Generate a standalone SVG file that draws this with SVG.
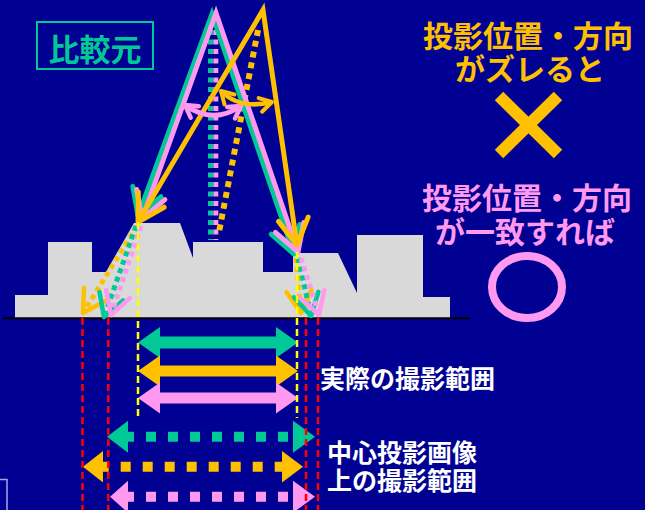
<svg xmlns="http://www.w3.org/2000/svg" width="645" height="510" viewBox="0 0 645 510">
<style>
.jp{font-family:"Noto Sans CJK JP","Noto Sans CJK SC",sans-serif;font-weight:bold}
.ray{fill:none;stroke-width:5;stroke-linejoin:miter}
.dot{fill:none;stroke-width:5;stroke-dasharray:5 4}
.g{stroke:#00C896}.o{stroke:#FFC000}.p{stroke:#FF99F0}
.vd{fill:none;stroke-width:2.5;stroke-dasharray:7 4}
.sq{fill:none;stroke-width:10;stroke-dasharray:10 12}
</style>
<defs>
<marker id="cg" markerUnits="userSpaceOnUse" viewBox="0 0 32 32" markerWidth="32" markerHeight="32" refX="28" refY="16" orient="auto-start-reverse" style="overflow:visible"><path d="M2,1 L28,16 L2,31" fill="none" stroke="#00C896" stroke-width="5" stroke-linecap="round" stroke-linejoin="round"/></marker>
<marker id="co" markerUnits="userSpaceOnUse" viewBox="0 0 32 32" markerWidth="32" markerHeight="32" refX="28" refY="16" orient="auto-start-reverse" style="overflow:visible"><path d="M2,1 L28,16 L2,31" fill="none" stroke="#FFC000" stroke-width="5" stroke-linecap="round" stroke-linejoin="round"/></marker>
<marker id="cp" markerUnits="userSpaceOnUse" viewBox="0 0 32 32" markerWidth="32" markerHeight="32" refX="28" refY="16" orient="auto-start-reverse" style="overflow:visible"><path d="M2,1 L28,16 L2,31" fill="none" stroke="#FF99F0" stroke-width="5" stroke-linecap="round" stroke-linejoin="round"/></marker>
<marker id="sg" markerUnits="userSpaceOnUse" viewBox="0 0 28 28" markerWidth="28" markerHeight="28" refX="25" refY="14" orient="auto" style="overflow:visible"><path d="M3,1.5 L25,14 L3,26.5" fill="none" stroke="#00C896" stroke-width="4.5" stroke-linecap="round" stroke-linejoin="round"/></marker>
<marker id="so" markerUnits="userSpaceOnUse" viewBox="0 0 28 28" markerWidth="28" markerHeight="28" refX="25" refY="14" orient="auto" style="overflow:visible"><path d="M3,1.5 L25,14 L3,26.5" fill="none" stroke="#FFC000" stroke-width="4.5" stroke-linecap="round" stroke-linejoin="round"/></marker>
<marker id="sp" markerUnits="userSpaceOnUse" viewBox="0 0 28 28" markerWidth="28" markerHeight="28" refX="25" refY="14" orient="auto" style="overflow:visible"><path d="M3,1.5 L25,14 L3,26.5" fill="none" stroke="#FF99F0" stroke-width="4.5" stroke-linecap="round" stroke-linejoin="round"/></marker>
<marker id="ao" markerUnits="userSpaceOnUse" viewBox="0 0 16 16" markerWidth="16" markerHeight="16" refX="13" refY="8" orient="auto-start-reverse" style="overflow:visible"><path d="M1,1 L13,8 L1,15" fill="none" stroke="#FFC000" stroke-width="4" stroke-linecap="round" stroke-linejoin="round"/></marker>
<marker id="ap" markerUnits="userSpaceOnUse" viewBox="0 0 16 16" markerWidth="16" markerHeight="16" refX="13" refY="8" orient="auto-start-reverse" style="overflow:visible"><path d="M1,1 L13,8 L1,15" fill="none" stroke="#FF99F0" stroke-width="4.5" stroke-linecap="round" stroke-linejoin="round"/></marker>
</defs>
<rect width="645" height="510" fill="#000092"/>

<g id="terrain">
<path d="M15,318 L15,295 L48,295 L48,242 L92,242 L92,272 L106,272 L134,223 L180,223 L193,258 L193,242 L263,242 L263,272 L293,272 L293,253 L338,253 L357,293 L357,235 L423,235 L423,297 L450,297 L450,318 Z" fill="#D9D9D9"/>
<line x1="3" y1="318.3" x2="470" y2="318.3" stroke="#000" stroke-width="2"/>
</g>

<g id="label-reference">
<rect x="37" y="22" width="116" height="47" fill="none" stroke="#00C896" stroke-width="2"/>
<text class="jp" x="95" y="61" font-size="31" text-anchor="middle" fill="#00C896">比較元</text>
</g>

<g id="connectors">
<line class="dot g" x1="210.5" y1="30" x2="210.5" y2="240" style="stroke-dasharray:5 4.5"/>
<line class="dot p" x1="215.8" y1="30" x2="215.8" y2="240" style="stroke-dasharray:5 4.5"/>
<line class="dot o" x1="258" y1="30" x2="219" y2="232" style="stroke-width:6;stroke-dasharray:6 5"/>
<path class="ray g" d="M138,216 L212,14 L294,254" marker-start="url(#cg)" marker-end="url(#cg)"/>
<path class="ray p" d="M142,219 L216,13 L298,252" marker-start="url(#cp)" marker-end="url(#cp)"/>
<path class="ray o" d="M138,222 L263,10 L297,245" marker-start="url(#co)" marker-end="url(#co)"/>
<path fill="none" stroke="#FF99F0" stroke-width="5" d="M185,105 Q213,125 241,106" marker-start="url(#ap)" marker-end="url(#ap)"/>
<path fill="none" stroke="#FFC000" stroke-width="4.5" d="M221,91 Q240,110 272,102" marker-start="url(#ao)" marker-end="url(#ao)"/>
<path class="dot o" d="M137,226 L83,313" marker-end="url(#so)"/>
<path class="dot g" d="M136,226 L104,317" marker-end="url(#sg)"/>
<path class="dot p" d="M141,226 L111,315" marker-end="url(#sp)"/>
<path class="dot o" d="M296,258 L301,313" marker-end="url(#so)"/>
<path class="dot g" d="M298,258 L311,316" marker-end="url(#sg)"/>
<path class="dot p" d="M301,258 L319,315" marker-end="url(#sp)"/>
</g>

<g id="ranges-actual">
<polygon fill="#00C896" points="138,342.5 160,327 160,336.5 276,336.5 276,327 298,342.5 276,358 276,348.5 160,348.5 160,358"/>
<polygon fill="#FFC000" points="138,371 160,355.5 160,365.5 276,365.5 276,355.5 298,371 276,386.5 276,376.5 160,376.5 160,386.5"/>
<polygon fill="#FF99F0" points="138,398 160,382.5 160,392.5 276,392.5 276,382.5 298,398 276,413.5 276,403.5 160,403.5 160,413.5"/>
</g>

<g id="ranges-projected">
<line class="sq g" x1="124" y1="436.7" x2="293" y2="436.7"/>
<polygon fill="#00C896" points="107,436.7 128,420.7 128,452.7"/>
<polygon fill="#00C896" points="315,436.7 293,420.7 293,452.7"/>
<line class="sq o" x1="98.7" y1="466.7" x2="283" y2="466.7"/>
<polygon fill="#FFC000" points="83,466.7 103,451 103,482.5"/>
<polygon fill="#FFC000" points="303,466.7 282,451 282,482.5"/>
<line class="sq p" x1="124" y1="496.7" x2="293" y2="496.7"/>
<polygon fill="#FF99F0" points="110,496.7 128,480.7 128,512.7"/>
<polygon fill="#FF99F0" points="315,496.7 293,480.7 293,512.7"/>
</g>

<g id="guides">
<line class="vd" x1="138" y1="222" x2="138" y2="418" stroke="#FFFF00"/>
<line class="vd" x1="297" y1="252" x2="297" y2="418" stroke="#FFFF00"/>
<line class="vd" x1="82.5" y1="318" x2="82.5" y2="510" stroke="#FF0000"/>
<line class="vd" x1="108.3" y1="318" x2="108.3" y2="510" stroke="#FF0000"/>
<line class="vd" x1="306" y1="318" x2="306" y2="510" stroke="#FF0000"/>
<line class="vd" x1="318" y1="318" x2="318" y2="510" stroke="#FF0000"/>
</g>

<g id="label-actual">
<text class="jp" x="320" y="388" font-size="25" fill="#FFFFFF">実際の撮影範囲</text>
</g>
<g id="label-projected">
<text class="jp" x="327" y="462" font-size="25" fill="#FFFFFF">中心投影画像</text>
<text class="jp" x="327" y="490" font-size="25" fill="#FFFFFF">上の撮影範囲</text>
</g>

<g id="note-mismatch">
<text class="jp" x="528" y="47" font-size="30" text-anchor="middle" fill="#FFC000">投影位置・方向</text>
<text class="jp" x="530" y="80" font-size="30" text-anchor="middle" fill="#FFC000">がズレると</text>
<line x1="499" y1="96" x2="558" y2="154" stroke="#FFC000" stroke-width="12"/>
<line x1="558" y1="96" x2="499" y2="154" stroke="#FFC000" stroke-width="12"/>
</g>

<g id="note-match">
<text class="jp" x="527" y="209" font-size="30" text-anchor="middle" fill="#FF99F0">投影位置・方向</text>
<text class="jp" x="525" y="243" font-size="30" text-anchor="middle" fill="#FF99F0">が一致すれば</text>
<ellipse cx="527" cy="287" rx="35" ry="31" fill="none" stroke="#FF99F0" stroke-width="8"/>
</g>

<polyline points="0,479.5 7,479.5 7,510" fill="none" stroke="#A0A8F0" stroke-width="1.5"/>
</svg>
